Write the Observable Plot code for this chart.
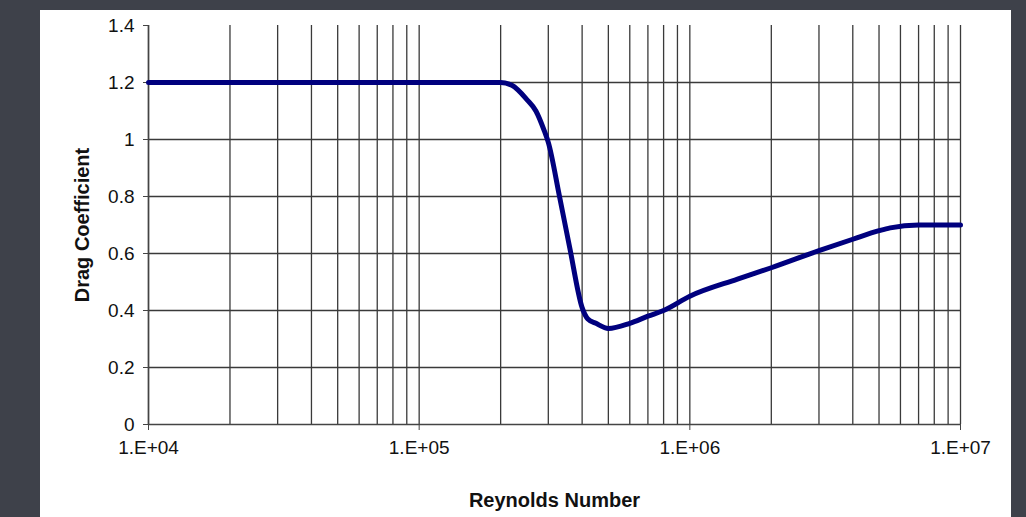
<!DOCTYPE html>
<html>
<head>
<meta charset="utf-8">
<script src="https://cdn.jsdelivr.net/npm/d3@7"></script>
<script src="https://cdn.jsdelivr.net/npm/@observablehq/plot@0.6"></script>
<style>
  html, body { margin: 0; padding: 0; }
  body { width: 1026px; height: 517px; background: #3e414a; position: relative; overflow: hidden; font-family: "Liberation Sans", Arial, sans-serif; }
  #panel { position: absolute; left: 40px; top: 10px; width: 971px; height: 510px; background: #ffffff; }
  #chart { position: absolute; left: 0; top: 0; }
</style>
</head>
<body>
<div id="panel"></div>
<div id="chart"></div>
<script>
// Reynolds number vs drag coefficient
const reynolds = [1e4, 2e5, 2.2e5, 2.5e5, 2.7e5, 2.9e5, 3.0e5, 3.3e5, 3.6e5, 4.0e5, 4.2e5, 4.5e5, 5.0e5, 6.0e5, 7.0e5, 8.0e5, 1.0e6, 1.5e6, 2.0e6, 3.0e6, 4.0e6, 5.0e6, 5.5e6, 7.0e6, 1.0e7];
const dragCoef = [1.2, 1.2, 1.19, 1.14, 1.10, 1.03, 0.99, 0.80, 0.62, 0.41, 0.37, 0.355, 0.337, 0.355, 0.38, 0.40, 0.45, 0.51, 0.55, 0.61, 0.65, 0.68, 0.69, 0.70, 0.70];

const xTicks = [1e4, 1e5, 1e6, 1e7];
const xTickLabels = ["1.E+04", "1.E+05", "1.E+06", "1.E+07"];
const yTicks = [0, 0.2, 0.4, 0.6, 0.8, 1.0, 1.2, 1.4];
const yTickLabels = ["0", "0.2", "0.4", "0.6", "0.8", "1", "1.2", "1.4"];
const xGrid = [];
for (const d of [1e4, 1e5, 1e6]) for (let k = 1; k <= 9; k++) xGrid.push(d * k);
xGrid.push(1e7);
const yGrid = [0.2, 0.4, 0.6, 0.8, 1.0, 1.2];
const xTitle = "Reynolds Number";
const yTitle = "Drag Coefficient";

const data = reynolds.map((r, i) => ({re: r, cd: dragCoef[i]}));
const gridColor = "#3a3a3a";

const chart = Plot.plot({
  width: 1026,
  height: 517,
  marginLeft: 148,
  marginRight: 66,
  marginTop: 25,
  marginBottom: 93,
  style: {background: "transparent", fontFamily: "Liberation Sans, Arial, sans-serif", fontSize: "19px", color: "#111"},
  x: {type: "log", domain: [1e4, 1e7]},
  y: {domain: [0, 1.4]},
  marks: [
    Plot.ruleX(xGrid, {stroke: gridColor, strokeWidth: 1.3}),
    Plot.ruleY(yGrid, {stroke: gridColor, strokeWidth: 1.3}),
    Plot.ruleY([0], {stroke: "#444", strokeWidth: 1.5}),
    Plot.ruleX([1e4], {stroke: "#444", strokeWidth: 1.5}),
    Plot.axisX({
      ticks: xTicks,
      tickFormat: (d) => xTickLabels[xTicks.indexOf(d)],
      tickSize: 6,
      tickPadding: 10,
      stroke: "#444",
      fontSize: 19,
      label: null
    }),
    Plot.axisX({
      ticks: [],
      label: xTitle,
      labelAnchor: "center",
      labelArrow: "none",
      labelOffset: 82,
      fontSize: 20,
      fontWeight: "bold"
    }),
    Plot.axisY({
      ticks: yTicks,
      tickFormat: (d) => yTickLabels[yTicks.findIndex((t) => Math.abs(t - d) < 1e-9)],
      tickSize: 5,
      tickPadding: 9,
      stroke: "#444",
      fontSize: 19,
      label: null
    }),
    Plot.axisY({
      ticks: [],
      label: yTitle,
      labelAnchor: "center",
      labelArrow: "none",
      labelOffset: 74,
      fontSize: 20,
      fontWeight: "bold"
    }),
    Plot.line(data, {x: "re", y: "cd", stroke: "#00007e", strokeWidth: 5, strokeLinejoin: "round", curve: "monotone-x"})
  ]
});
document.getElementById("chart").appendChild(chart);
</script>
</body>
</html>
